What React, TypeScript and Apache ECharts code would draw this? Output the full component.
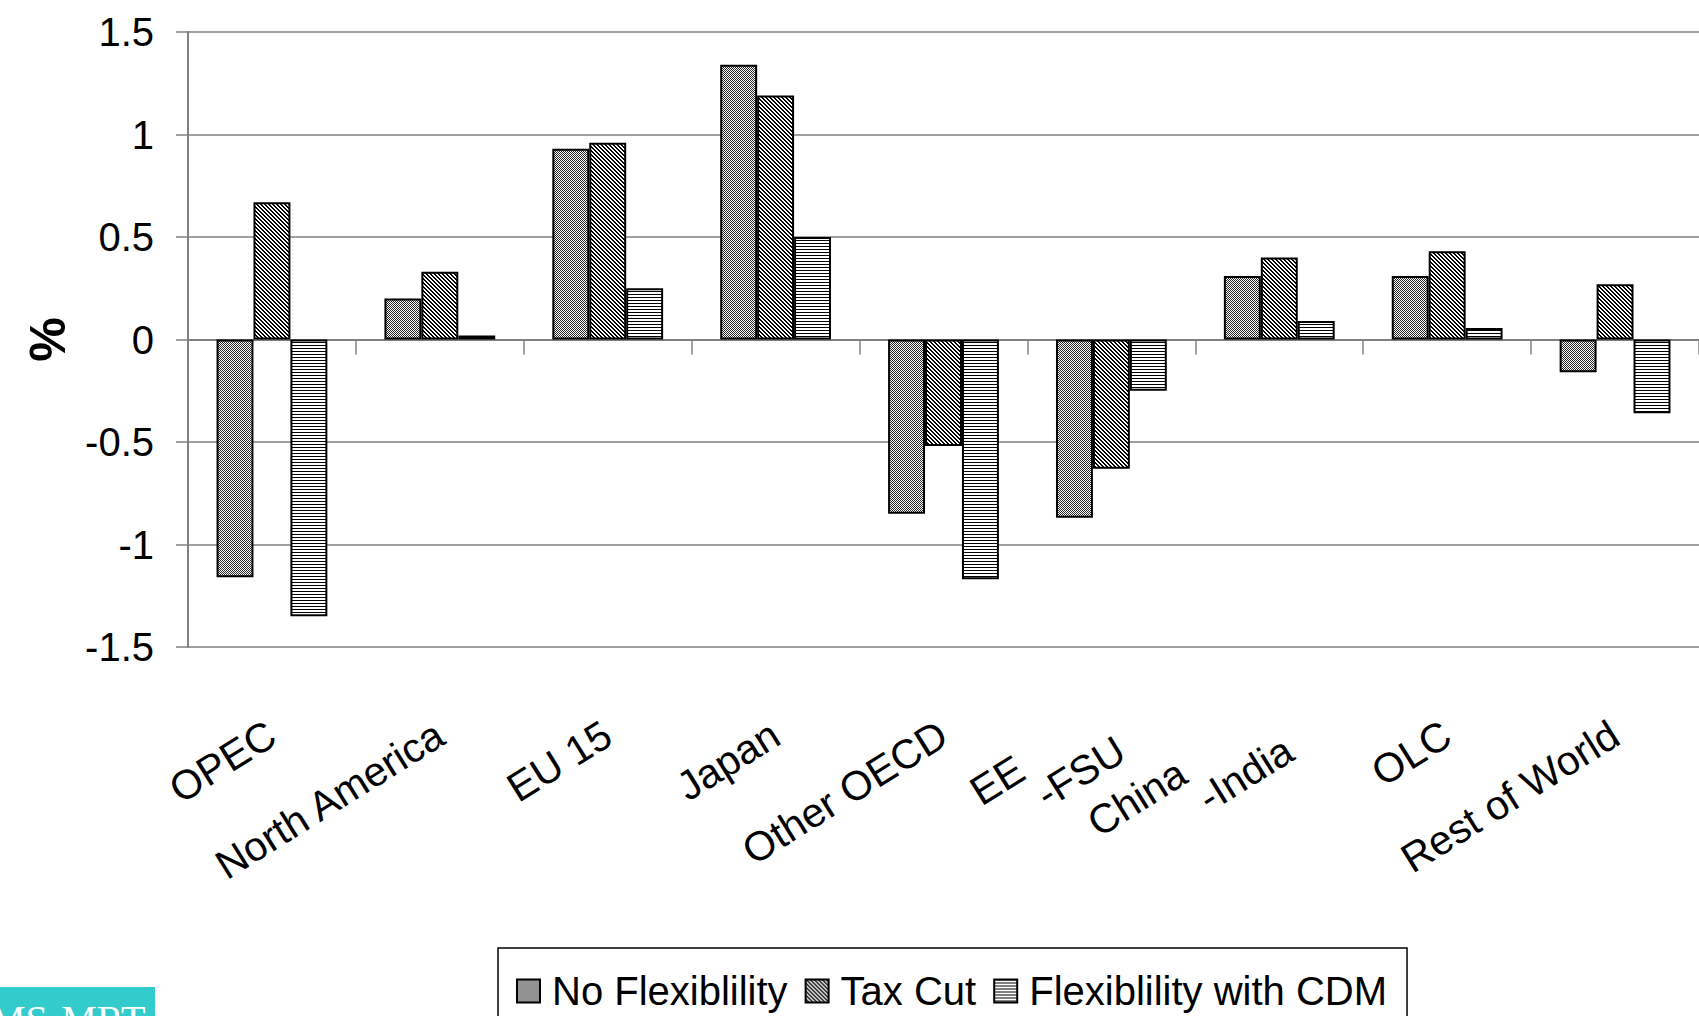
import React, { useEffect, useRef } from "react";
import * as echarts from "echarts";

const categories = ["OPEC", "North America", "EU 15", "Japan", "Other OECD", "EE-FSU", "China-India", "OLC", "Rest of World"];
const seriesNames = ["No Flexiblility", "Tax Cut", "Flexiblility with CDM"];
const noFlexibility = [-1.16, 0.2, 0.93, 1.34, -0.85, -0.87, 0.31, 0.31, -0.16];
const taxCut = [0.67, 0.33, 0.96, 1.19, -0.52, -0.63, 0.4, 0.43, 0.27];
const flexWithCdm = [-1.35, 0.02, 0.25, 0.5, -1.17, -0.25, 0.09, 0.056, -0.36];
const yMin = -1.5;
const yMax = 1.5;
const yStep = 0.5;
const yAxisName = "%";
const badgeText = "MS-MRT";

const SANS = '"Liberation Sans", Arial, sans-serif';

function makePattern(kind: string): HTMLCanvasElement {
  const c = document.createElement("canvas");
  const size = kind === "horiz" ? [4, 3] : kind === "check" ? [2, 2] : [4, 4];
  c.width = size[0];
  c.height = size[1];
  const ctx = c.getContext("2d")!;
  ctx.fillStyle = "#ffffff";
  ctx.fillRect(0, 0, c.width, c.height);
  for (let y = 0; y < c.height; y++) {
    for (let x = 0; x < c.width; x++) {
      let on = false;
      if (kind === "check") on = (x + y) % 2 === 0;
      else if (kind === "diag") on = ((x - y + 8) % 4) < 2;
      else on = y === 0;
      if (on) {
        ctx.fillStyle = kind === "check" ? "#262626" : "#000000";
        ctx.fillRect(x, y, 1, 1);
      }
    }
  }
  return c;
}

export default function App() {
  const ref = useRef<HTMLDivElement>(null);
  useEffect(() => {
    if (!ref.current) return;
    const chart = echarts.init(ref.current, undefined, { renderer: "svg" });
    const fills = [makePattern("check"), makePattern("diag"), makePattern("horiz")];
    const values = [noFlexibility, taxCut, flexWithCdm];
    const option: any = {
      animation: false,
      backgroundColor: "#ffffff",
      grid: { left: 188, top: 32, right: -8, bottom: 369, containLabel: false },
      legend: {
        left: 498,
        top: 948,
        orient: "horizontal",
        itemWidth: 23,
        itemHeight: 23,
        itemGap: 17,
        padding: [23, 20, 18, 18],
        borderColor: "#000000",
        borderWidth: 1.5,
        icon: "rect",
        data: seriesNames,
        textStyle: { fontFamily: SANS, fontSize: 40, color: "#000000", padding: [0, 0, 0, 7] },
      },
      xAxis: [
        {
          type: "category",
          data: categories,
          position: "bottom",
          axisLine: { show: false, onZero: false },
          axisTick: { show: false },
          splitLine: { show: false },
          axisLabel: {
            interval: 0,
            rotate: 32,
            margin: 84,
            fontFamily: SANS,
            fontSize: 41,
            color: "#000000",
            formatter: (v: string) => {
              const i = v.indexOf("-");
              if (i > 0) return "{a|" + v.slice(0, i) + "}{s|" + v.slice(i) + "}";
              return v;
            },
            rich: {
              a: { fontFamily: SANS, fontSize: 41, color: "#000", lineHeight: 44, verticalAlign: "top" },
              s: { fontFamily: SANS, fontSize: 41, color: "#000", lineHeight: 78, verticalAlign: "bottom" },
            },
          },
        },
        {
          type: "category",
          data: categories,
          position: "bottom",
          axisLine: { show: true, onZero: true, lineStyle: { color: "#808080", width: 2 } },
          axisTick: { show: true, length: 15, lineStyle: { color: "#808080", width: 1.5 } },
          axisLabel: { show: false },
          splitLine: { show: false },
        },
      ],
      yAxis: {
        type: "value",
        min: yMin,
        max: yMax,
        interval: yStep,
        name: yAxisName,
        nameLocation: "middle",
        nameGap: 115,
        nameTextStyle: { fontFamily: SANS, fontSize: 50, fontWeight: "bold", color: "#000000" },
        axisLine: { show: true, lineStyle: { color: "#808080", width: 2 } },
        axisTick: { show: true, length: 12, lineStyle: { color: "#808080", width: 1.5 } },
        splitLine: { show: true, lineStyle: { color: "#808080", width: 1.5 } },
        axisLabel: { fontFamily: SANS, fontSize: 40, color: "#000000", margin: 34 },
      },
      series: seriesNames.map((name, k) => ({
        name,
        type: "bar",
        xAxisIndex: 0,
        data: values[k],
        barGap: "0%",
        barCategoryGap: "34%",
        itemStyle: {
          color: { image: fills[k], repeat: "repeat" },
          borderColor: "#000000",
          borderWidth: 2,
        },
        emphasis: { disabled: true },
      })),
      graphic: [
        { type: "rect", shape: { x: 0, y: 987, width: 155, height: 40 }, style: { fill: "#33CCCC" }, z: 10 },
        {
          type: "text",
          x: -10,
          y: 999,
          z: 11,
          style: { text: badgeText, fill: "#ffffff", font: '40px "Liberation Serif", serif', verticalAlign: "top" },
        },
      ],
    };
    chart.setOption(option);
    return () => chart.dispose();
  }, []);
  return <div ref={ref} style={{ position: "fixed", left: 0, top: 0, width: 1699, height: 1016, background: "#fff" }} />;
}
